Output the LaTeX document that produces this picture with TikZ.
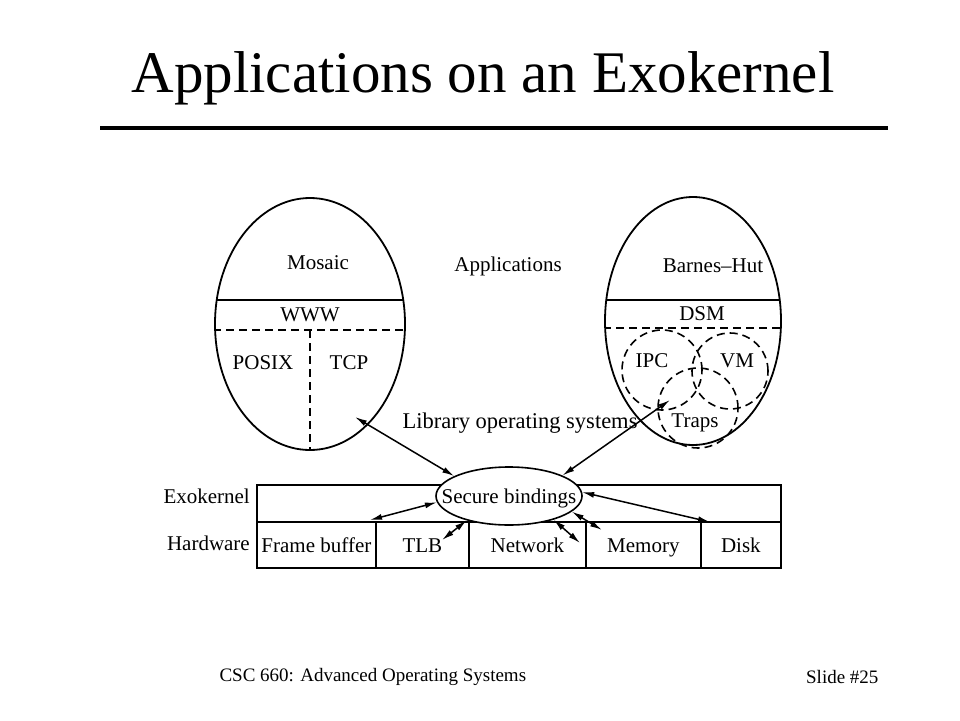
\documentclass[tikz,border=0pt]{standalone}
\usepackage{fontspec}
\setmainfont{Liberation Serif}
\usetikzlibrary{arrows.meta,shapes.geometric}

\begin{document}
\begin{tikzpicture}[x=1pt, y=-1pt,
  lbl/.style={font=\fontsize{21}{23}\selectfont, inner sep=0pt, text height=19pt, text depth=4pt},
  cell/.style={draw, line width=1.8pt, anchor=north west, minimum height=46pt, inner sep=0pt, text height=19pt, text depth=4pt, font=\fontsize{21}{23}\selectfont},
  bind/.style={{Latex[length=12pt,width=6pt]}-{Latex[length=12pt,width=6pt]}, line width=1.5pt},
  sep/.style={dash pattern=on 8pt off 5pt, line width=1.6pt}]
\useasboundingbox (0,0) rectangle (960,720);

% Title and rule
\node[font=\fontsize{59}{62}\selectfont] (title) at (483,78) {Applications on an Exokernel};
\draw[line width=4pt] (100,128) -- (888,128);

% Left application (Mosaic)
\draw[line width=1.8pt] (310,324) ellipse [x radius=95pt, y radius=126pt];
\begin{scope}
\clip (310,324) ellipse [x radius=95pt, y radius=126pt];
\draw[line width=1.8pt] (200,300) -- (420,300);
\draw[sep] (200,330) -- (420,330);
\draw[sep] (310,330) -- (310,460);
\end{scope}
\node[lbl] (mosaic) at (318,262) {Mosaic};
\node[lbl] (www) at (310,314) {WWW};
\node[lbl] (posix) at (263,362) {POSIX};
\node[lbl] (tcp) at (349,362) {TCP};

% Right application (Barnes-Hut)
\draw[line width=1.8pt] (693,321) ellipse [x radius=88pt, y radius=124pt];
\begin{scope}
\clip (693,321) ellipse [x radius=88pt, y radius=124pt];
\draw[line width=1.8pt] (590,300) -- (790,300);
\draw[sep] (590,328) -- (790,328);
\end{scope}
\draw[sep] (662,370) circle [radius=40pt];
\draw[sep] (730,371) circle [radius=38pt];
\draw[sep] (698,408) circle [radius=40pt];
\node[lbl] (barnes) at (713,265) {Barnes--Hut};
\node[lbl] (dsm) at (702,313) {DSM};
\node[lbl] (ipc) at (652,360) {IPC};
\node[lbl] (vm) at (737,360) {VM};
\node[lbl] (traps) at (695,420) {Traps};

\node[lbl] (apps) at (508,264) {Applications};
\node[lbl, font=\fontsize{22.5}{24}\selectfont] (libos) at (520,421) {Library operating systems};

% Exokernel and hardware rows
\node[cell, minimum width=524pt, minimum height=37pt] (exo) at (256,484) {};
\node[cell, minimum width=119pt] (fb) at (256,521) {Frame buffer};
\node[cell, minimum width=93pt] (tlb) at (375,521) {TLB};
\node[cell, minimum width=117pt] (net) at (468,521) {Network};
\node[cell, minimum width=115pt] (mem) at (585,521) {Memory};
\node[cell, minimum width=80pt] (disk) at (700,521) {Disk};
\node[lbl, anchor=east] (exolbl) at (250,496) {Exokernel};
\node[lbl, anchor=east] (hwlbl) at (250,543) {Hardware};

\node[lbl, draw, ellipse, fill=white, line width=1.6pt, minimum width=146pt, minimum height=58pt] (sb) at (509,496) {\makebox[0pt]{Secure bindings}};

% Arrow ends
\coordinate (lib1) at (355,417);
\coordinate (lib2) at (670,400);
\coordinate (fbend) at (370,520);
\coordinate (tlbend) at (442,540);
\coordinate (netend) at (580,543);
\coordinate (memend) at (602,530);
\coordinate (diskend) at (710,522);

\draw[bind] (lib1) -- (sb.160);
\draw[bind] (lib2) -- (sb.21);
\draw[bind] (sb.185) -- (fbend);
\draw[bind] (sb.210) -- (tlbend);
\draw[bind] (sb.332) -- (netend);
\draw[bind] (sb.346) -- (memend);
\draw[bind] (sb.3) -- (diskend);

% Footer
\node[anchor=west, font=\fontsize{19}{21}\selectfont] (course) at (216,677) {CSC 660: Advanced Operating Systems};
\node[anchor=east, font=\fontsize{19}{21}\selectfont] (slide) at (882,677) {Slide \#25};
\end{tikzpicture}
\end{document}
